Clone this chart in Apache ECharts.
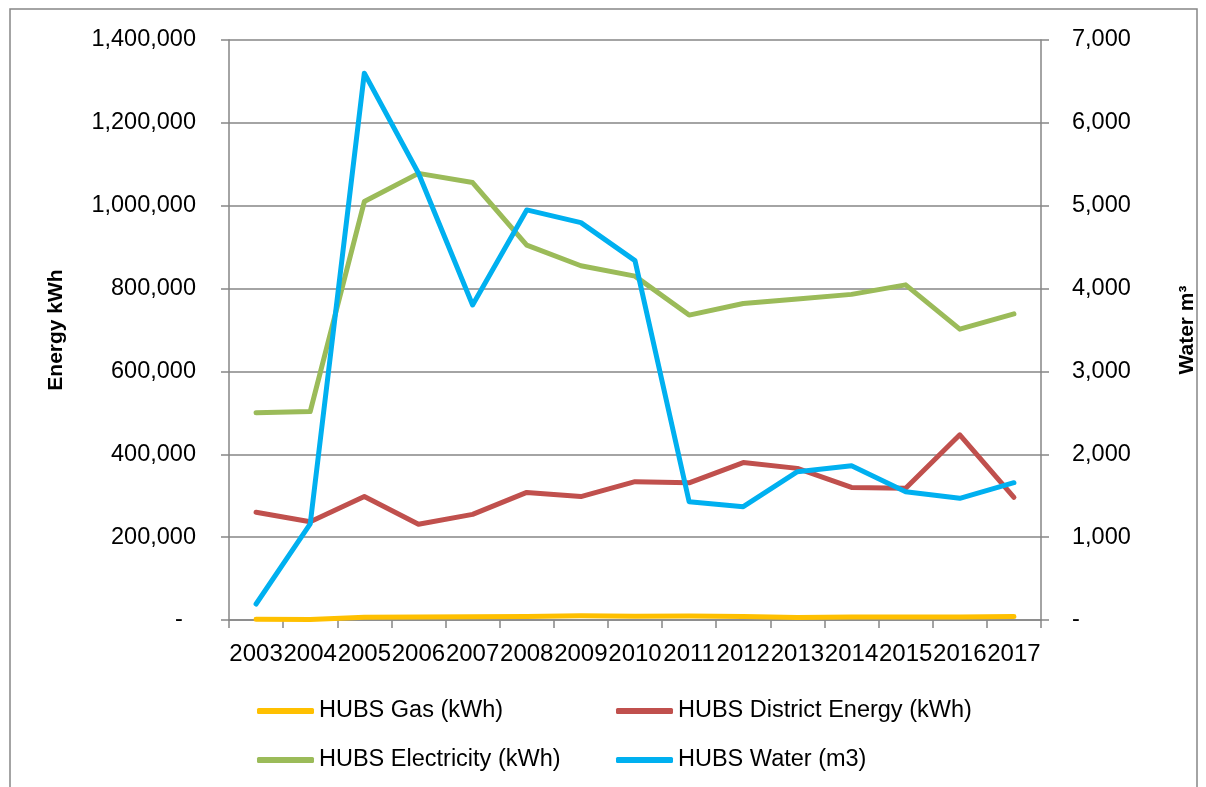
<!DOCTYPE html>
<html>
<head>
<meta charset="utf-8">
<script src="https://cdn.jsdelivr.net/npm/echarts@6/dist/echarts.min.js"></script>
<style>
    html, body { margin: 0; padding: 0; background: #fff; }
    #chart { width: 1206px; height: 787px; }
</style>
</head>
<body>
<div id="chart"></div>
<script>
const years = ['2003', '2004', '2005', '2006', '2007', '2008', '2009', '2010', '2011', '2012', '2013', '2014', '2015', '2016', '2017']
const gas = [2000, 1500, 6500, 7000, 8000, 8500, 10000, 9000, 9500, 8500, 6000, 7500, 7000, 7000, 8500]
const district = [260000, 237000, 298000, 231000, 255000, 308000, 298000, 334000, 331000, 380000, 366000, 320000, 318000, 447000, 296000]
const electricity = [500000, 503000, 1010000, 1078000, 1056000, 905000, 855000, 830000, 736000, 764000, 775000, 786000, 809000, 702000, 739000]
const water = [193, 1159, 6600, 5392, 3802, 4949, 4796, 4337, 1428, 1368, 1790, 1862, 1549, 1469, 1657]

const seriesNames = ['HUBS Gas (kWh)', 'HUBS District Energy (kWh)', 'HUBS Electricity (kWh)', 'HUBS Water (m3)']
const colors = ['#FFC000', '#C0504D', '#9BBB59', '#00B0F0']

const FONT = 'Liberation Sans'
const GRAY = '#868686'

const fmt = v => v === 0 ? '-  ' : v.toLocaleString('en-US')
const fmtRight = v => v === 0 ? '-' : v.toLocaleString('en-US')

const legendAt = (name, left, top) => ({
    data: [name],
    left, top,
    orient: 'horizontal',
    icon: 'roundRect',
    itemWidth: 57,
    itemHeight: 6,
    padding: 0,
    selectedMode: false,
    textStyle: { fontFamily: FONT, fontSize: 23.5, color: '#000' },
})

const chart = echarts.init(document.getElementById('chart'), null, { renderer: 'canvas' })
chart.setOption({
    backgroundColor: '#fff',
    animation: false,
    color: colors,
    graphic: [{
        type: 'rect',
        shape: { x: 10, y: 9, width: 1187, height: 800 },
        style: { fill: 'none', stroke: GRAY, lineWidth: 1.5 },
        silent: true,
    }],
    grid: { left: 229, right: 164, top: 40, bottom: 167 },
    legend: [
        legendAt(seriesNames[0], 257, 699),
        legendAt(seriesNames[1], 616, 699),
        legendAt(seriesNames[2], 257, 748),
        legendAt(seriesNames[3], 616, 748),
    ],
    xAxis: {
        type: 'category',
        data: years,
        boundaryGap: true,
        axisLine: { lineStyle: { color: GRAY, width: 1.5 } },
        axisTick: { show: true, length: 8, lineStyle: { color: GRAY, width: 1.5 } },
        axisLabel: { interval: 0, margin: 22, fontFamily: FONT, fontSize: 24, color: '#000' },
        splitLine: { show: false },
    },
    yAxis: [
        {
            type: 'value',
            min: 0, max: 1400000, interval: 200000,
            name: 'Energy kWh',
            nameLocation: 'middle',
            nameGap: 162,
            nameTextStyle: { fontFamily: FONT, fontSize: 21, fontWeight: 'bold', color: '#000' },
            axisLine: { show: true, lineStyle: { color: GRAY, width: 1.5 } },
            axisTick: { show: true, length: 8, lineStyle: { color: GRAY, width: 1.5 } },
            axisLabel: { margin: 33, formatter: fmt, fontFamily: FONT, fontSize: 23.5, color: '#000' },
            splitLine: { show: true, lineStyle: { color: GRAY, width: 1.5 } },
        },
        {
            type: 'value',
            min: 0, max: 7000, interval: 1000,
            position: 'right',
            name: 'Water m³',
            nameLocation: 'middle',
            nameGap: 136,
            nameRotate: 90,
            nameTextStyle: { fontFamily: FONT, fontSize: 21, fontWeight: 'bold', color: '#000' },
            axisLine: { show: true, lineStyle: { color: GRAY, width: 1.5 } },
            axisTick: { show: true, length: 8, lineStyle: { color: GRAY, width: 1.5 } },
            axisLabel: { margin: 31, formatter: fmtRight, fontFamily: FONT, fontSize: 23.5, color: '#000' },
            splitLine: { show: false },
        },
    ],
    series: [
        { data: gas, yAxisIndex: 0 },
        { data: district, yAxisIndex: 0 },
        { data: electricity, yAxisIndex: 0 },
        { data: water, yAxisIndex: 1 },
    ].map((s, i) => ({
        name: seriesNames[i],
        type: 'line',
        data: s.data,
        yAxisIndex: s.yAxisIndex,
        symbol: 'none',
        smooth: false,
        lineStyle: { width: 5, color: colors[i], cap: 'round', join: 'round' },
        itemStyle: { color: colors[i] },
        z: 2 + i,
    })),
})
</script>
</body>
</html>
